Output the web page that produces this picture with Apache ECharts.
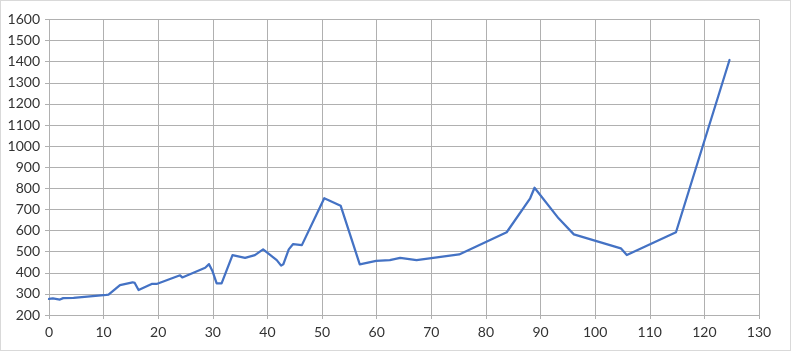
<!DOCTYPE html>
<html>
<head>
<meta charset="utf-8">
<script src="https://cdn.jsdelivr.net/npm/echarts@6/dist/echarts.min.js"></script>
<style>
html,body{margin:0;padding:0;background:#fff;}
#frame{position:absolute;left:0;top:0;width:789px;height:349px;border:1px solid #d9d9d9;}
#chart{position:absolute;left:0;top:0;width:795px;height:351px;}
</style>
</head>
<body>
<div id="frame"></div>
<div id="chart"></div>
<script>
const xValues = [0, 0.7, 2, 2.6, 4.5, 10.5, 10.9, 13.0, 15.3, 15.7, 16.4, 18.8, 19.7, 24.0, 24.4, 28.6, 29.3, 29.9, 30.7, 31.6, 33.6, 35.9, 37.7, 39.2, 41.7, 42.5, 42.9, 43.9, 44.7, 46.3, 50.4, 53.4, 56.9, 59.9, 62.4, 64.3, 67.3, 75.1, 83.8, 88.1, 88.9, 93.3, 96.1, 104.7, 105.8, 114.8, 124.6];
const yValues = [276, 279, 273, 280, 281, 295, 297, 342, 355, 352, 318, 347, 347, 388, 378, 424, 441, 410, 350, 350, 484, 471, 484, 511, 460, 434, 440, 511, 536, 531, 753, 718, 440, 456, 460, 471, 460, 487, 592, 753, 803, 658, 582, 516, 484, 592, 1408];
const xTicks = [0, 130, 10];
const yTicks = [200, 1600, 100];

const data = xValues.map((x, i) => [x, yValues[i]]);
const gridColor = '#b0b0b0';
const labelFont = {color: '#333333', fontSize: 14, fontFamily: 'Lato, "Open Sans", sans-serif', formatter: v => String(v)};

const chart = echarts.init(document.getElementById('chart'), null, {renderer: 'canvas'});
chart.setOption({
  animation: false,
  grid: {left: 49, right: 36, top: 19.5, bottom: 36, containLabel: false},
  xAxis: {
    type: 'value', min: xTicks[0], max: xTicks[1], interval: xTicks[2],
    axisLine: {show: true, lineStyle: {color: gridColor, width: 1}},
    axisTick: {show: true, length: 4, lineStyle: {color: gridColor}},
    splitLine: {show: true, lineStyle: {color: gridColor, width: 1}},
    axisLabel: Object.assign({margin: 10}, labelFont)
  },
  yAxis: {
    type: 'value', min: yTicks[0], max: yTicks[1], interval: yTicks[2],
    axisLine: {show: true, lineStyle: {color: gridColor, width: 1}},
    axisTick: {show: true, length: 4, lineStyle: {color: gridColor}},
    splitLine: {show: true, lineStyle: {color: gridColor, width: 1}},
    axisLabel: Object.assign({margin: 9}, labelFont)
  },
  series: [{
    type: 'line',
    data: data,
    showSymbol: false,
    symbol: 'none',
    lineStyle: {color: '#4472C4', width: 2.25, join: 'round', cap: 'round'},
    itemStyle: {color: '#4472C4'}
  }]
});
</script>
</body>
</html>
